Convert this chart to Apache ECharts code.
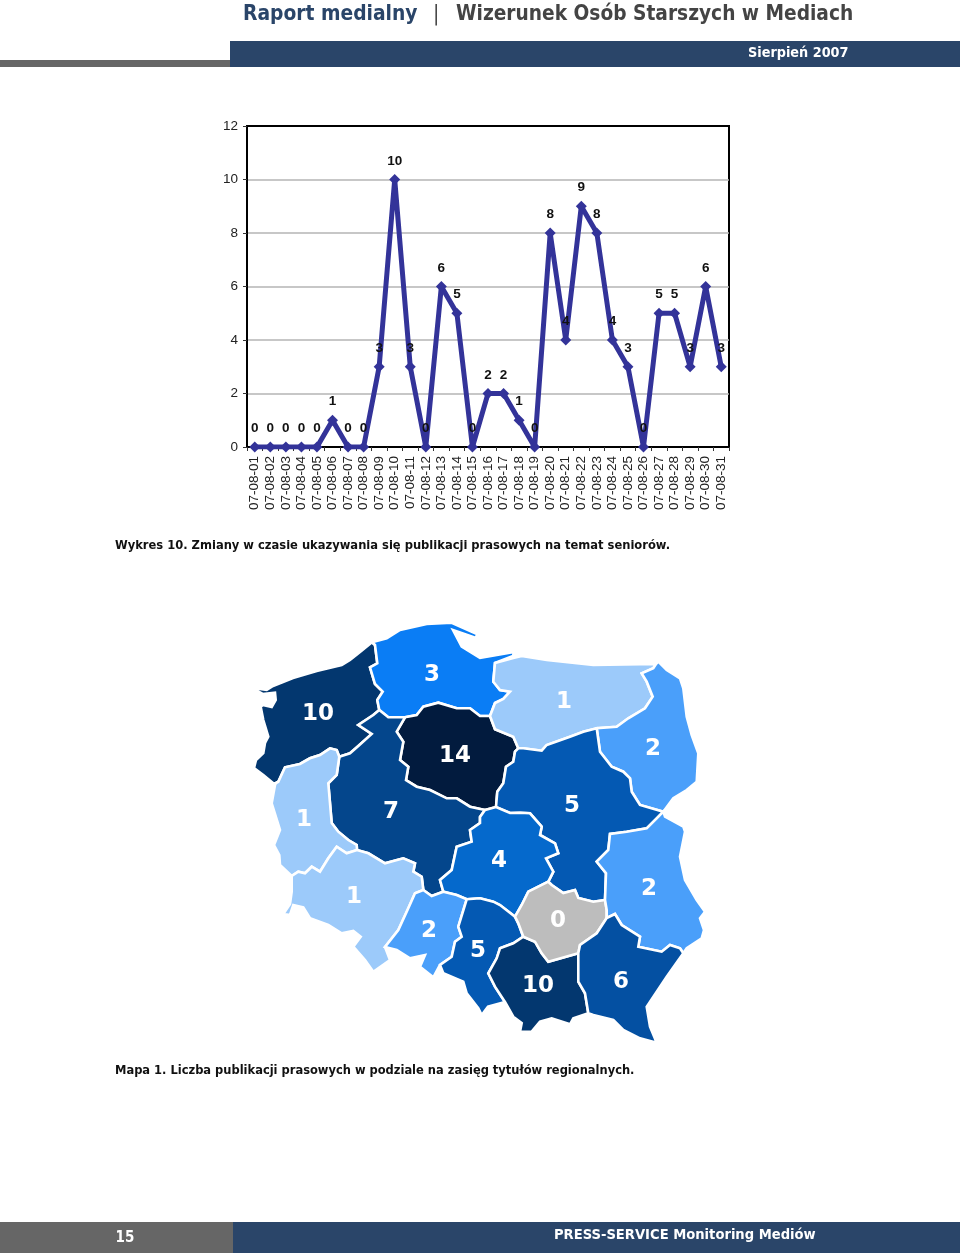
<!DOCTYPE html>
<html><head><meta charset="utf-8">
<style>html,body{margin:0;padding:0;background:#fff}#c{width:960px;height:1258px}</style>
<script src="https://cdn.jsdelivr.net/npm/echarts@6/dist/echarts.min.js"></script>
</head><body><div id="c"></div>
<script>
const days = ['07-08-01','07-08-02','07-08-03','07-08-04','07-08-05','07-08-06','07-08-07','07-08-08','07-08-09','07-08-10','07-08-11','07-08-12','07-08-13','07-08-14','07-08-15','07-08-16','07-08-17','07-08-18','07-08-19','07-08-20','07-08-21','07-08-22','07-08-23','07-08-24','07-08-25','07-08-26','07-08-27','07-08-28','07-08-29','07-08-30','07-08-31'];
const publications = [0,0,0,0,0,1,0,0,3,10,3,0,6,5,0,2,2,1,0,8,4,9,8,4,3,0,5,5,3,6,3];
const regionNames = ['zachodniopomorskie','pomorskie','kujawsko-pomorskie','warmińsko-mazurskie','podlaskie','wielkopolskie','mazowieckie','łódzkie','lubuskie','dolnośląskie','opolskie','śląskie','małopolskie','świętokrzyskie','lubelskie','podkarpackie'];
const regionValues = [10,3,14,1,2,7,5,4,1,1,2,5,10,0,2,6];
const regionColors = ['#03376f','#0a7df5','#021b3e','#9ccafa','#4a9ffa','#04468c','#0459b3','#0569cc','#9ccafa','#9ccafa','#4a9ffa','#0459b3','#03376f','#bdbdbd','#4a9ffa','#0450a2'];

// Map outline: shared border stretches
const S = {
 Zo:[[372,642.3],[360,652],[350,660],[341.7,665],[316.7,671],[293,678],[273,686],[266.7,690],[258,688.7],[257.3,691],[262.7,694],[275,692.7],[275.7,700],[271.7,707],[263,705],[260.7,706.7],[263.3,720],[268.3,736.7],[265,743],[263.3,753],[256,760],[254,768],[263.3,775],[273.3,783.3],[276,783]],
 ZP:[[379.3,710],[377.3,700],[382.7,691.7],[375,684],[370,667.3],[377.3,663.3],[375,645],[372,642.3]],
 ZL:[[276,783],[278.3,781.7],[285,767.3],[300,764],[310,758.3],[320,755],[330,748.3],[336.7,750],[339.3,756.7]],
 ZW:[[339.3,756.7],[350,753.3],[358.3,746],[371.7,734],[358.3,725],[373.3,715],[379.3,710]],
 Po:[[372,642.3],[386.7,638.3],[400,630],[426.7,624],[451.7,622.7],[477,634],[476,638],[453,630],[461.7,646.7],[480,658],[514,652],[513,656],[495,663]],
 PM:[[495,663],[493.3,681.7],[500,690],[510,691.7],[503.3,699],[495,703],[490,716]],
 PK:[[490,716],[480,716],[470,708.3],[456.7,708.3],[438.3,702.7],[423.3,706.7],[416.7,715],[405,717.3]],
 PW:[[405,717.3],[388.3,717.3],[379.3,710]],
 KM:[[490,716],[495,729.3],[513.3,736.7],[518.3,748.3]],
 KZ:[[518.3,748.3],[515,751.7],[513.3,761.7],[506,766.7],[503.3,783.3],[497.3,791.7],[496,807]],
 KL:[[496,807],[485,810]],
 KW:[[485,810],[470,806.7],[456.7,798.3],[446.7,798.3],[430,790],[416.7,786.7],[406,780],[408.3,766.7],[400,760],[403.3,741.7],[396.7,731.7],[405,717.3]],
 Mo:[[495,663],[513.3,658],[521.7,656],[546.7,660],[593.3,665],[656,664]],
 MD:[[656,664],[653.3,668.3],[641.7,673.3],[646.7,681.7],[652.7,696.7],[645,708.3],[628.3,718.3],[616.7,726.7],[596.7,728.3]],
 MZ:[[596.7,728.3],[583.3,731.7],[570,736.7],[546.7,745],[541.7,750.7],[523.3,748.3],[518.3,748.3]],
 Do:[[656,664],[658.3,661.7],[666.7,670],[680,678.3],[683.3,688.3],[686.7,716.7],[691.7,735],[698.3,753.3],[696.7,781.7],[686.7,790],[673.3,798.3],[663.3,811.7]],
 DZ:[[663.3,811.7],[640,805],[631.7,791.7],[630,778.3],[623.3,771.7],[611.7,766.7],[600,751.7],[596.7,728.3]],
 ZB:[[663.3,811.7],[656.7,818.3],[646.7,828.3],[626.7,831.7],[610,834],[608.3,850],[596.7,861.7],[606,873.3],[605,900]],
 ZS:[[605,900],[593.3,901.7],[578.3,898],[575,890],[563.3,893],[551.7,885],[548.3,881.7]],
 ZD:[[548.3,881.7],[553.3,871.7],[546,858.3],[558.3,853.3],[555,843.3],[540,835],[541.7,826.7],[530,813.3],[520,812.7],[510,813],[496,807]],
 WL:[[485,810],[480,817],[480,823],[470,830],[471.7,841.7],[456.7,846.7],[451.7,870],[440,880],[443.3,891.7]],
 WO:[[443.3,891.7],[431.7,896],[423.3,890]],
 WD:[[423.3,890],[421.7,876.7],[413.3,871.7],[415,863.3],[403.3,858.3],[385,863.3],[368.3,853.3],[357,850]],
 WU:[[357,850],[356.7,845],[348.3,840],[338.3,831.7],[331.7,823],[328.3,783.3],[336.7,775],[339.3,756.7]],
 UD:[[357,850],[346.7,853.3],[336.7,846.7],[328.3,858.3],[320,871.7],[311.7,866.7],[305,873.3],[298.3,871.7],[291.7,876]],
 Uo:[[291.7,876],[280,865],[279.3,855],[274,845],[280,830],[271.7,803.3],[275,785],[276,783]],
 Lo:[[291.7,876],[291.7,891.7],[290,904],[283.3,914],[290,915],[293.3,905],[303.3,907.3],[310,918.3],[328.3,925],[341.7,933.3],[353.3,931],[360.7,936.7],[353.3,946.7],[365,960],[373.3,971.7],[390,960],[385,947]],
 LO:[[385,947],[398.3,930],[408.3,908.3],[415,893.3],[423.3,890]],
 Oo:[[385,947],[396.7,950],[410,958.3],[425,955],[420,966.7],[433.3,977.3],[440,965]],
 OS:[[440,965],[451.7,956.7],[455,941.7],[461.7,936.7],[458.3,926.7],[466.7,899.3]],
 OL:[[466.7,899.3],[456.7,895],[443.3,891.7]],
 LS:[[466.7,899.3],[480,898.3],[493.3,901.7],[500,905],[515,916.7]],
 LT:[[515,916.7],[521.7,905],[528.3,891.7],[548.3,881.7]],
 ST:[[515,916.7],[518.3,923.3],[523.3,936.7]],
 SM:[[523.3,936.7],[513.3,943.3],[500,948.3],[496.7,958.3],[488.3,973.3],[495,986.7],[505,1002]],
 So:[[505,1002],[488,1006.7],[481.7,1015],[478.3,1008.3],[466.7,993.3],[463.3,981.7],[443.3,973.3],[440,965]],
 MT:[[523.3,936.7],[535,941.7],[541.7,953.3],[548.3,961.7],[578.3,953.3]],
 MP:[[578.3,953.3],[578.3,981.7],[585,993.3],[588.3,1013.3]],
 Ao:[[588.3,1013.3],[573.3,1018.3],[570,1024.3],[551.7,1018.3],[540,1021.7],[531.7,1031.7],[520,1031.7],[521.7,1023],[513.3,1016.7],[505,1002]],
 TP:[[578.3,953.3],[580,945],[596.7,933.3],[606.7,918]],
 TB:[[606.7,918],[606.7,910],[605,900]],
 BP:[[606.7,918],[615,914],[621.7,925],[640,936.7],[638.3,946.7],[661.7,951.7],[670,945],[680,948.3],[683.3,953.3]],
 Bo:[[663.3,811.7],[665,816.7],[683.3,826.7],[685,831.7],[680,856.7],[685,880],[696.7,900],[705,911.7],[700,918.3],[704,930],[701.7,938.3],[686.7,948.3],[683.3,953.3]],
 Ko:[[683.3,953.3],[666.7,976.7],[646.7,1006.7],[650,1026.7],[656.7,1042.7],[640,1038.3],[623.3,1030],[613.3,1020],[593.3,1015],[588.3,1013.3]]
};
// '-' prefix = walk the stretch backwards
const rings = [
 ['Zo','ZL','ZW','ZP'],
 ['Po','PM','PK','PW','ZP'],
 ['-PK','KM','KZ','KL','KW'],
 ['Mo','MD','MZ','-KM','-PM'],
 ['Do','DZ','-MD'],
 ['ZW','-PW','-KW','WL','WO','WD','WU'],
 ['-KZ','-MZ','-DZ','ZB','ZS','ZD'],
 ['-KL','-ZD','-LT','-LS','OL','-WL'],
 ['ZL','-WU','UD','Uo'],
 ['WD','UD','Lo','LO'],
 ['-WO','-OL','-OS','-Oo','LO'],
 ['LS','ST','SM','So','OS'],
 ['MT','MP','Ao','-SM'],
 ['-ZS','-TB','-TP','-MT','-ST','LT'],
 ['Bo','-BP','TB','-ZB'],
 ['TP','BP','Ko','-MP']
];
const labelAnchors = [[318,714],[432,675],[455,756],[564,702],[653,749],[391,812],[572,806],[499,861],[304,820],[354,897],[429,931],[478,951],[538,986],[558,921],[649,889],[621,982]];

const ring = r => {
  const pts = [];
  r.forEach(k => { const rev = k[0]==='-'; const s = S[rev?k.slice(1):k]; (rev?[...s].reverse():s).forEach(p=>pts.push([p[0],-p[1]])); });
  pts.push(pts[0]);
  return pts;
};
echarts.registerMap('polska',{type:'FeatureCollection',features:regionNames.map((n,i)=>({
  type:'Feature',properties:{name:n,cp:[labelAnchors[i][0],-labelAnchors[i][1]]},
  geometry:{type:'Polygon',coordinates:[ring(rings[i])]}
}))});

const sans='"Liberation Sans",Arial,sans-serif', cond='"DejaVu Sans Condensed","DejaVu Sans",sans-serif';
const txt=(text,x,y,font,fill,align)=>({type:'text',silent:true,x,y,z:10,style:{text,font,fill,align:align||'left',verticalAlign:'middle'}});
const rect=(x,y,w,h,fill)=>({type:'rect',silent:true,z:5,shape:{x,y,width:w,height:h},style:{fill}});

const chart=echarts.init(document.getElementById('c'),null,{renderer:'canvas'});
chart.setOption({
  backgroundColor:'#fff',animation:false,
  grid:{left:247,top:126,width:482,height:321,show:true,borderColor:'#000',borderWidth:2,backgroundColor:'#fff'},
  xAxis:{type:'category',data:days,boundaryGap:true,
    axisLine:{lineStyle:{color:'#000',width:2}},
    axisTick:{show:true,alignWithLabel:false,interval:0,length:4,lineStyle:{color:'#333'}},
    axisLabel:{interval:0,rotate:90,margin:9,fontFamily:sans,fontSize:13.5,color:'#222'},
    splitLine:{show:false}},
  yAxis:{type:'value',min:0,max:12,interval:2,
    axisLine:{show:true,lineStyle:{color:'#000',width:2}},
    axisTick:{show:true,length:4,lineStyle:{color:'#333'}},
    axisLabel:{margin:9,fontFamily:sans,fontSize:13.5,color:'#222'},
    splitLine:{show:true,showMaxLine:false,showMinLine:false,lineStyle:{color:'#b5b5b5',width:1.5}}},
  series:[
   {type:'line',data:publications,symbol:'diamond',symbolSize:11,showAllSymbols:true,showSymbol:true,
    lineStyle:{color:'#333399',width:5,join:'bevel'},itemStyle:{color:'#333399'},
    label:{show:true,position:'top',distance:6,fontFamily:sans,fontSize:13.5,fontWeight:'bold',color:'#111'},
    emphasis:{disabled:true},silent:true,z:3},
   {type:'map',map:'polska',left:254,top:622.7,width:451,height:420,aspectScale:1,roam:false,selectedMode:false,silent:true,
    itemStyle:{borderColor:'#fff',borderWidth:2.6},
    label:{show:true,formatter:'{c}',color:'#fff',fontFamily:'"DejaVu Sans",sans-serif',fontWeight:'bold',fontSize:23},
    emphasis:{disabled:true},
    data:regionNames.map((n,i)=>({name:n,value:regionValues[i],itemStyle:{areaColor:regionColors[i]}}))}
  ],
  graphic:{elements:[
    rect(0,60,260,7,'#666'),
    rect(230,41,730,26,'#2a4569'),
    txt('Raport medialny',243,14.5,'bold 20.8px '+cond,'#2a4569'),
    txt('|',433,14.5,'21px '+cond,'#444'),
    txt('Wizerunek Osób Starszych w Mediach',456,14.5,'bold 20.7px '+cond,'#444'),
    txt('Sierpień 2007',748,53,'bold 14.3px '+cond,'#fff'),
    txt('Wykres 10. Zmiany w czasie ukazywania się publikacji prasowych na temat seniorów.',115,546,'bold 12.8px '+cond,'#111'),
    txt('Mapa 1. Liczba publikacji prasowych w podziale na zasięg tytułów regionalnych.',115,1071,'bold 12.75px '+cond,'#111'),
    rect(0,1222,233,31,'#666'),
    rect(233,1222,727,31,'#2a4569'),
    txt('15',125,1238,'bold 15px '+cond,'#fff','center'),
    txt('PRESS-SERVICE Monitoring Mediów',554,1235,'bold 14.6px '+cond,'#fff')
  ]}
});
</script></body></html>
